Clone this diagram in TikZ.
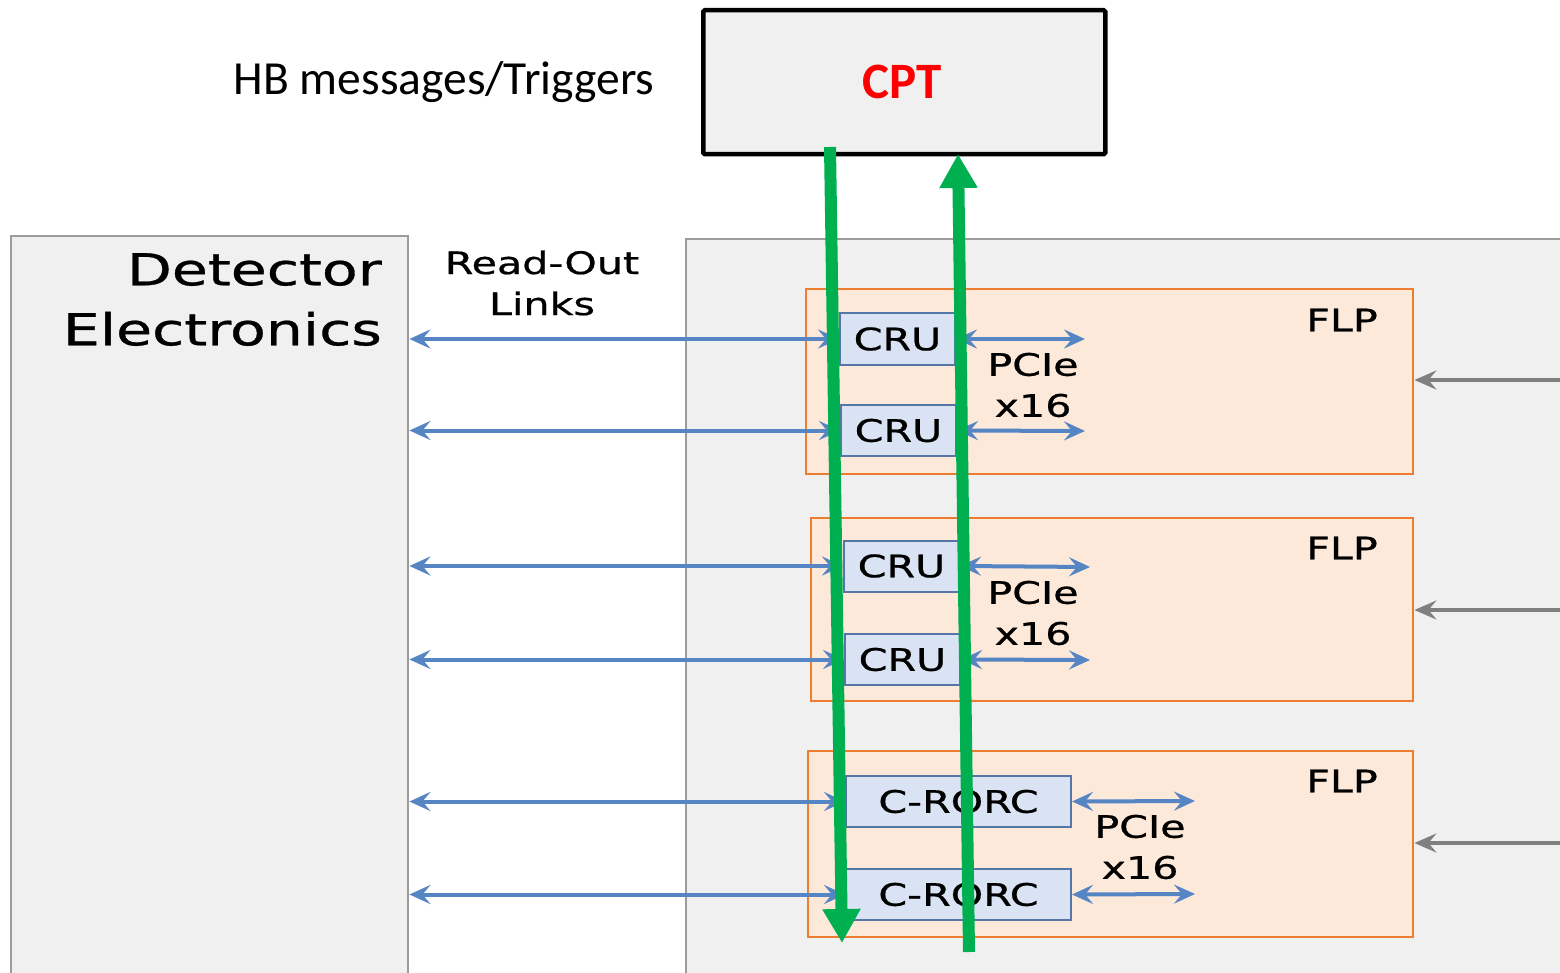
\documentclass[tikz,border=0pt]{standalone}
\usepackage{fontspec}
\setmainfont{DejaVu Sans}[FakeBold=0.6]
\newfontfamily\calfont{Carlito}
\usetikzlibrary{arrows.meta}
\definecolor{bggray}{HTML}{F0F0F0}
\definecolor{boxgray}{HTML}{9C9C9C}
\definecolor{flpfill}{HTML}{FCE9DA}
\definecolor{flpline}{HTML}{ED7D31}
\definecolor{crufill}{HTML}{DAE3F3}
\definecolor{cruline}{HTML}{5577A8}
\definecolor{arrblue}{HTML}{5585C2}
\definecolor{arrgray}{HTML}{808080}
\definecolor{grn}{HTML}{00B050}
\newcommand\wide[1]{\scalebox{1.33}[1]{#1}}
\begin{document}
\begin{tikzpicture}[x=1pt,y=-1pt,
  graybox/.style={draw=boxgray, line width=2.4pt, fill=bggray, anchor=north west, inner sep=0pt},
  flpbox/.style={draw=flpline, line width=2.4pt, fill=flpfill, anchor=north west, inner sep=0pt},
  crubox/.style={draw=cruline, line width=2pt, fill=crufill, minimum height=51pt, inner sep=0pt, font=\fontsize{31}{36}\selectfont},
  small/.style={font=\fontsize{31}{41}\selectfont, align=center, inner sep=0pt},
  blarr/.style={draw=arrblue, line width=4pt, {Stealth[length=21pt,width=19pt,inset=8pt]}-{Stealth[length=21pt,width=19pt,inset=8pt]}},
  grarr/.style={draw=arrgray, line width=4pt, -{Stealth[length=22pt,width=19pt,inset=8pt]}},
  grnarr/.style={draw=grn, line width=12pt, -{Triangle[length=34pt,width=36pt]}}
]
\clip (0,0) rectangle (1560,973);
\fill[white] (0,0) rectangle (1560,973);

% CPT
\node[draw=black, line width=4.5pt, fill=bggray, rounded corners=1.5pt, anchor=north west,
      minimum width=402pt, minimum height=144pt, inner sep=0pt] (cpt) at (701,8) {};
\node[text=red, font=\calfont\bfseries\fontsize{51}{56}\selectfont, inner sep=0pt] (cptl) at (902,82) {CPT};
\node[font=\calfont\fontsize{47.5}{50}\selectfont, inner sep=0pt] (hb) at (444,82) {HB messages/Triggers};

% Detector electronics
\node[graybox, minimum width=397pt, minimum height=760pt] (det) at (10,235) {};
\node[font=\fontsize{44}{60}\selectfont, align=right, anchor=north east, inner sep=0pt] (detl) at (382,253)
  {\wide{Detector}\\\wide{Electronics}};

% Right big box
\node[graybox, minimum width=900pt, minimum height=760pt] (dest) at (685,238) {};

\node[small] (rol) at (542,283) {\wide{Read-Out}\\\wide{Links}};

% FLPs
\node[flpbox, minimum width=607pt, minimum height=185pt] (flp1) at (805,288) {};
\node[flpbox, minimum width=602pt, minimum height=183pt] (flp2) at (810,517) {};
\node[flpbox, minimum width=605pt, minimum height=186pt] (flp3) at (807,750) {};
\node[small] (flp1l) at (1342,320) {\wide{FLP}};
\node[small] (flp2l) at (1342,548) {\wide{FLP}};
\node[small] (flp3l) at (1342,781) {\wide{FLP}};

% CRUs / C-RORCs
\node[crubox, minimum width=115pt] (cru1) at (897.5,339) {\wide{CRU}};
\node[crubox, minimum width=115pt] (cru2) at (898.5,430.5) {\wide{CRU}};
\node[crubox, minimum width=115pt] (cru3) at (901.5,566) {\wide{CRU}};
\node[crubox, minimum width=115pt] (cru4) at (902.5,659.5) {\wide{CRU}};
\node[crubox, minimum width=225pt] (ror1) at (958.5,801.5) {\wide{C-RORC}};
\node[crubox, minimum width=225pt] (ror2) at (958.5,894.5) {\wide{C-RORC}};

% read-out links
\draw[blarr] (det.east |- cru1.west) -- (cru1.west);
\draw[blarr] (det.east |- cru2.west) -- (cru2.west);
\draw[blarr] (det.east |- cru3.west) -- (cru3.west);
\draw[blarr] (det.east |- cru4.west) -- (cru4.west);
\draw[blarr] (det.east |- ror1.west) -- (ror1.west);
\draw[blarr] (det.east |- ror2.west) -- (ror2.west);

% PCIe
\coordinate (pe1) at (1085,339);
\coordinate (pe2) at (1085,431);
\coordinate (pe3) at (1090,567);
\coordinate (pe4) at (1090,660);
\coordinate (pe5) at (1195,801);
\coordinate (pe6) at (1195,894);
\draw[blarr] (cru1.east) -- (pe1);
\draw[blarr] (cru2.east) -- (pe2);
\draw[blarr] (cru3.east) -- (pe3);
\draw[blarr] (cru4.east) -- (pe4);
\draw[blarr] (ror1.east) -- (pe5);
\draw[blarr] (ror2.east) -- (pe6);
\node[small] (pc1) at (1033,385) {\wide{PCIe}\\\wide{x16}};
\node[small] (pc2) at (1033,613) {\wide{PCIe}\\\wide{x16}};
\node[small] (pc3) at (1140,847) {\wide{PCIe}\\\wide{x16}};

% gray inputs
\coordinate (g1) at (1562,380);
\coordinate (g2) at (1562,610);
\coordinate (g3) at (1562,843);
\draw[grarr] (g1) -- (flp1.east |- g1);
\draw[grarr] (g2) -- (flp2.east |- g2);
\draw[grarr] (g3) -- (flp3.east |- g3);

% green trigger arrows
\coordinate (gd1) at (830,147);
\coordinate (gd2) at (842,943);
\coordinate (gu1) at (969,952);
\coordinate (gu2) at (958,154);
\draw[grnarr] (gd1) -- (gd2);
\draw[grnarr] (gu1) -- (gu2);
\end{tikzpicture}
\end{document}
